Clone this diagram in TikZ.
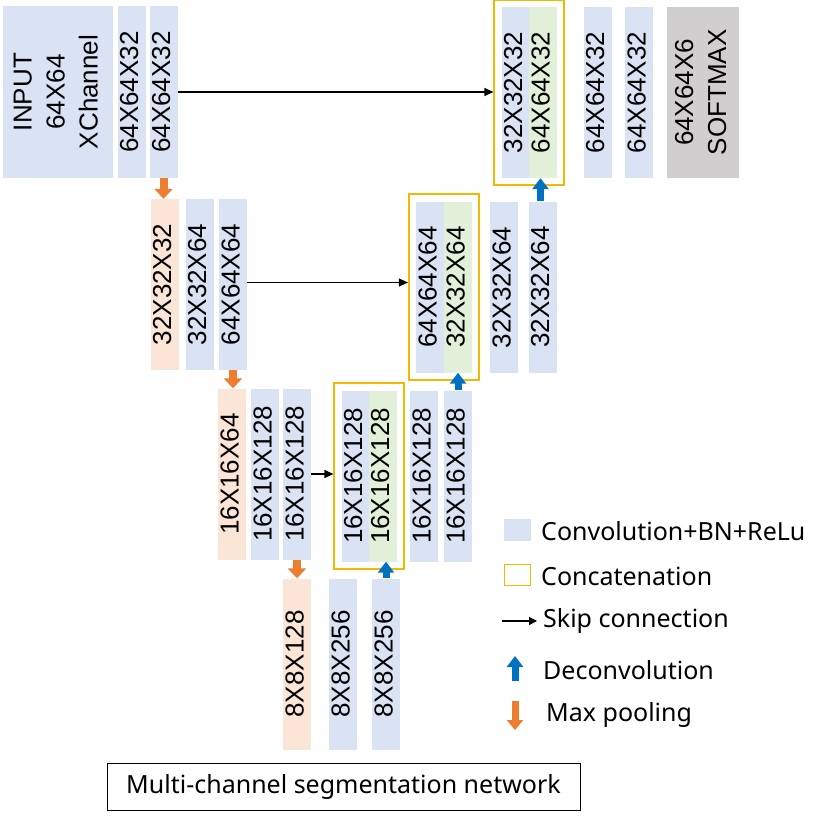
\documentclass[tikz,border=0pt]{standalone}
\usepackage{fontspec}
\setmainfont{Liberation Sans}
\newfontfamily\legendfont{Noto Sans}
\usetikzlibrary{arrows.meta,fit}
\definecolor{convblue}{HTML}{DAE3F3}
\definecolor{poolorange}{HTML}{FBE5D6}
\definecolor{upgreen}{HTML}{E2F0D9}
\definecolor{softgray}{HTML}{D0CECE}
\definecolor{catyellow}{HTML}{F5B800}
\definecolor{arrorange}{HTML}{ED7D31}
\definecolor{arrblue}{HTML}{0070C0}
\newcommand{\vtext}[1]{\makebox[0pt]{\rotatebox{90}{\begin{tabular}{@{}c@{}}#1\end{tabular}}}}
\tikzset{
  blk/.style={fill=convblue, minimum width=28pt, minimum height=171pt, inner sep=0pt,
    font=\fontsize{26}{33}\selectfont},
  poolblk/.style={blk, fill=poolorange},
  upblk/.style={blk, fill=upgreen},
  catbox/.style={draw=catyellow, line width=1.8pt, inner sep=7pt},
  skiparrow/.style={line width=1.2pt, -{Triangle[length=9pt,width=8pt]}},
  poolarrow/.style={draw=arrorange, line width=8pt, -{Triangle[length=10pt,width=18pt]}},
  uparrow/.style={draw=arrblue, line width=7pt, -{Triangle[length=11pt,width=16pt]}},
  legtext/.style={anchor=west, inner sep=0pt, font=\legendfont\fontsize{25}{30}\selectfont}
}

\begin{document}
\begin{tikzpicture}[x=1pt, y=-1pt]
  \useasboundingbox (0,0) rectangle (830,820);
  % encoder
  \node[blk, minimum width=110pt, minimum height=172pt] (in) at (58,92) {\vtext{INPUT\\64X64\\XChannel}};
  \node[blk, minimum height=172pt] (c11) at (131.5,92) {\vtext{64X64X32}};
  \node[blk, minimum height=172pt] (c12) at (163.5,92) {\vtext{64X64X32}};
  \node[poolblk] (p2) at (164.5,284.5) {\vtext{32X32X32}};
  \node[blk] (c21) at (199.5,284.5) {\vtext{32X32X64}};
  \node[blk] (c22) at (233,284.5) {\vtext{64X64X64}};
  \node[poolblk] (p3) at (232,474) {\vtext{16X16X64}};
  \node[blk] (c31) at (265,474) {\vtext{16X16X128}};
  \node[blk] (c32) at (297,474) {\vtext{16X16X128}};
  \node[poolblk] (p4) at (297,664) {\vtext{8X8X128}};
  \node[blk] (c41) at (343,664) {\vtext{8X8X256}};
  \node[blk] (c42) at (386,664) {\vtext{8X8X256}};
  % decoder
  \node[blk] (u3a) at (355.5,476) {\vtext{16X16X128}};
  \node[upblk] (u3b) at (382.5,476) {\vtext{16X16X128}};
  \node[catbox, fit=(u3a)(u3b)] (cat3) {};
  \node[blk] (c33) at (424,476) {\vtext{16X16X128}};
  \node[blk] (c34) at (458,476) {\vtext{16X16X128}};
  \node[blk] (u2a) at (430,287) {\vtext{64X64X64}};
  \node[upblk] (u2b) at (458,287) {\vtext{32X32X64}};
  \node[catbox, fit=(u2a)(u2b)] (cat2) {};
  \node[blk] (c23) at (504,287.5) {\vtext{32X32X64}};
  \node[blk] (c24) at (542.5,287) {\vtext{32X32X64}};
  \node[blk] (u1a) at (515.5,92.5) {\vtext{32X32X32}};
  \node[upblk] (u1b) at (543,92.5) {\vtext{64X64X32}};
  \node[catbox, fit=(u1a)(u1b)] (cat1) {};
  \node[blk] (c13) at (597.5,92.5) {\vtext{64X64X32}};
  \node[blk] (c14) at (639,92.5) {\vtext{64X64X32}};
  \node[blk, fill=softgray, minimum width=72pt] (soft) at (703,92.5) {\vtext{64X64X6\\SOFTMAX}};
  % skip connections
  \draw[skiparrow] (c12.east) -- (c12.east -| cat1.west);
  \draw[skiparrow] ([yshift=2pt]c22.east) -- ([yshift=2pt]c22.east -| cat2.west);
  \draw[skiparrow] (c32.east) -- (c32.east -| cat3.west);
  % max pooling
  \draw[poolarrow] (c12.south) -- (c12.south |- p2.north);
  \draw[poolarrow] (c22.south) -- (c22.south |- p3.north);
  \draw[poolarrow] (c32.south) -- (c32.south |- p4.north);
  % deconvolution
  \draw[uparrow] ([xshift=-2pt]c24.north) -- ([xshift=-2pt]c24.north |- u1b.south);
  \draw[uparrow] (c34.north) -- (c34.north |- u2b.south);
  \draw[uparrow] (c42.north) -- (c42.north |- u3b.south);
  % legend
  \node[fill=convblue, minimum width=27pt, minimum height=22pt, inner sep=0pt] (lgconv) at (517.5,530) {};
  \node[legtext] (lgconvtext) at (541,531) {Convolution+BN+ReLu};
  \node[draw=catyellow, line width=1.5pt, minimum width=26pt, minimum height=21pt, inner sep=0pt] (lgcat) at (517.5,575) {};
  \node[legtext] (lgcattext) at (541,576) {Concatenation};
  \coordinate (lgskipa) at (502,621);
  \coordinate (lgskipb) at (537,621);
  \draw[line width=1.2pt, -{Triangle[length=8pt,width=8pt]}] (lgskipa) -- (lgskipb);
  \node[legtext] (lgskiptext) at (543,621) {Skip connection};
  \coordinate (lgupa) at (515,681);
  \coordinate (lgupb) at (515,656);
  \draw[uparrow] (lgupa) -- (lgupb);
  \node[legtext] (lguptext) at (543,670) {Deconvolution};
  \coordinate (lgpoola) at (515,701);
  \coordinate (lgpoolb) at (515,730);
  \draw[poolarrow, line width=7pt, -{Triangle[length=10pt,width=16pt]}] (lgpoola) -- (lgpoolb);
  \node[legtext] (lgpooltext) at (546,715) {Max pooling};
  % title
  \node[draw, line width=1pt, minimum width=473pt, minimum height=47pt, inner sep=0pt,
    font=\legendfont\fontsize{25}{30}\selectfont] (title) at (343.5,786.5) {Multi-channel segmentation network};
\end{tikzpicture}
\end{document}
